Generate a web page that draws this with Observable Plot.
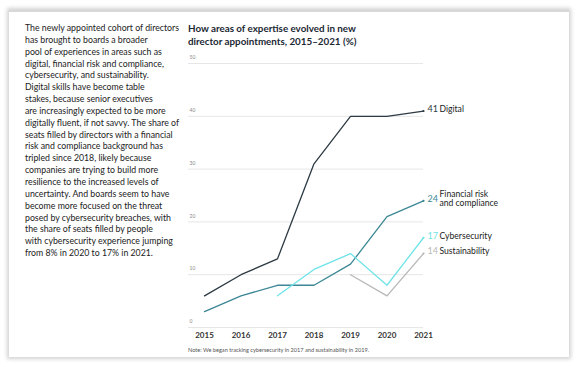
<!DOCTYPE html>
<html>
<head>
<meta charset="utf-8">
<script src="https://cdn.jsdelivr.net/npm/d3@7"></script>
<script src="https://cdn.jsdelivr.net/npm/@observablehq/plot@0.6"></script>
<style>
  html, body { margin: 0; padding: 0; background: #ffffff; width: 579px; height: 367px; overflow: hidden; font-family: Lato, "Open Sans", sans-serif; }
  #card { position: absolute; left: 9px; top: 10px; width: 560px; height: 347px; background: #fff;
          box-shadow: 0 0 4px 2px rgba(0,0,0,0.18); border-top: 2px solid #d8d8d8; box-sizing: border-box; }
  #text { position: absolute; left: 25px; top: 22px; width: 170px; font-size: 8.75px; line-height: 11.85px; color: #222; }
  #title { position: absolute; left: 188px; top: 22px; font-size: 9.8px; line-height: 12.5px; font-weight: bold; color: #1b2833; }
  #chart { position: absolute; left: 0; top: 0; }
  #note { position: absolute; left: 188px; top: 346px; font-size: 5.6px; color: #555; }
</style>
</head>
<body>
<div id="card"></div>
<div id="text">The newly appointed cohort of directors<br>has brought to boards a broader<br>pool of experiences in areas such as<br>digital, financial risk and compliance,<br>cybersecurity, and sustainability.<br>Digital skills have become table<br>stakes, because senior executives<br>are increasingly expected to be more<br>digitally fluent, if not savvy. The share of<br>seats filled by directors with a financial<br>risk and compliance background has<br>tripled since 2018, likely because<br>companies are trying to build more<br>resilience to the increased levels of<br>uncertainty. And boards seem to have<br>become more focused on the threat<br>posed by cybersecurity breaches, with<br>the share of seats filled by people<br>with cybersecurity experience jumping<br>from 8% in 2020 to 17% in 2021.</div>
<div id="title">How areas of expertise evolved in new<br>director appointments, 2015–2021 (%)</div>
<div id="chart"></div>
<div id="note">Note: We began tracking cybersecurity in 2017 and sustainability in 2019.</div>
<script>
const years = [2015, 2016, 2017, 2018, 2019, 2020, 2021];
const seriesNames = ["Digital", "Financial risk and compliance", "Cybersecurity", "Sustainability"];
const labelTexts = ["Digital", "Financial risk\nand compliance", "Cybersecurity", "Sustainability"];
const digital = [6, 10, 13, 31, 40, 40, 41];
const financial = [3, 6, 8, 8, 12, 21, 24];
const cyber = [null, null, 6, 11, 14, 8, 17];
const sustainability = [null, null, null, null, 10, 6, 14];
const colors = ["#2c3a44", "#3b8794", "#6fe3e8", "#b8b8b8"];
const yTicks = [0, 10, 20, 30, 40, 50];

const allValues = [digital, financial, cyber, sustainability];
const rows = [];
allValues.forEach((vals, i) => {
  vals.forEach((v, j) => { if (v != null) rows.push({series: seriesNames[i], year: years[j], value: v}); });
});
const ends = seriesNames.map((s, i) => {
  const vals = allValues[i];
  return {series: s, year: years[years.length - 1], value: vals[vals.length - 1], label: labelTexts[i]};
});

const plot = Plot.plot({
  width: 579,
  height: 345,
  marginLeft: 188,
  marginRight: 156,
  marginTop: 63,
  marginBottom: 18,
  style: {background: "transparent", fontFamily: "Lato, 'Open Sans', sans-serif"},
  x: {domain: [2015, 2021], insetLeft: 16, axis: null},
  y: {domain: [0, 50], axis: null},
  color: {domain: seriesNames, range: colors},
  marks: [
    Plot.ruleY(yTicks, {stroke: "#e6e6e6", strokeWidth: 1}),
    Plot.text(yTicks, {y: d => d, text: d => String(d), frameAnchor: "left", textAnchor: "start", dx: 1, dy: -6, fontSize: 5, fill: "#888"}),
    Plot.text(years, {x: d => d, text: d => String(d), frameAnchor: "bottom", dy: 10, fontSize: 8, fontWeight: "bold", fill: "#333"}),
    Plot.line(rows, {x: "year", y: "value", z: "series", stroke: "series", strokeWidth: 1.3}),
    Plot.dot(ends, {x: "year", y: "value", fill: "series", r: 1.1}),
    Plot.text(ends, {x: "year", y: "value", text: d => String(d.value), fill: "series", textAnchor: "start", dx: 4, dy: -2, fontSize: 9}),
    Plot.text(ends, {x: "year", y: "value", text: "label", fill: "#222", textAnchor: "start", lineAnchor: "middle", lineHeight: 1.0, dx: 16, dy: -2, fontSize: 8.6})
  ]
});
document.getElementById("chart").appendChild(plot);
</script>
</body>
</html>
